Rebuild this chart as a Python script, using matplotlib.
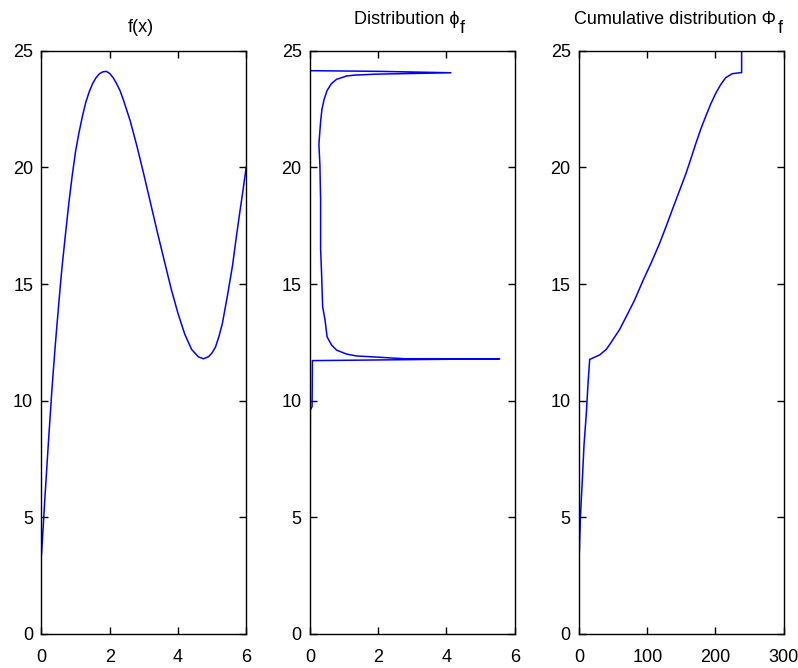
import matplotlib
matplotlib.use("Agg")
import matplotlib.pyplot as plt
from matplotlib.transforms import IdentityTransform

# ---- data ----
fx_x = [0, 0.05, 0.1, 0.15, 0.2, 0.25, 0.3, 0.35, 0.4, 0.45, 0.5, 0.55, 0.6, 0.7, 0.8, 0.9,
        1.0, 1.1, 1.2, 1.3, 1.4, 1.5, 1.6, 1.7, 1.8, 1.9, 2.0, 2.1, 2.2, 2.3, 2.4, 2.6,
        2.8, 3.0, 3.2, 3.4, 3.6, 3.8, 4.0, 4.2, 4.4, 4.6, 4.75, 4.9, 5.0, 5.1, 5.2, 5.3,
        5.45, 5.6, 5.7, 5.8, 5.9, 6.0]
fx_y = [3.4, 4.6, 5.85, 7.0, 8.15, 9.25, 10.35, 11.35, 12.3, 13.2, 14.05, 14.9, 15.7, 17.1, 18.45, 19.65,
        20.7, 21.5, 22.2, 22.8, 23.25, 23.6, 23.85, 24.02, 24.1, 24.12, 24.03, 23.85, 23.6, 23.3, 22.9, 22.0,
        20.9, 19.7, 18.45, 17.2, 16.0, 14.8, 13.75, 12.85, 12.2, 11.88, 11.8, 11.89, 12.05, 12.3, 12.75, 13.3,
        14.5, 15.8, 16.9, 17.95, 18.95, 20.0]

phi_val = [0.0, 0.01, 0.06, 0.07, 5.56, 2.77, 1.85, 1.36, 1.07, 0.78, 0.63, 0.5, 0.44,
           0.37, 0.34, 0.31, 0.31, 0.29, 0.26, 0.31, 0.35, 0.41, 0.5, 0.63, 0.78, 1.07, 1.31,
           1.94, 4.13, 2.04, 0.0]
phi_lvl = [3.4, 9.6, 9.75, 11.72, 11.80, 11.80, 11.88, 11.92, 12.0, 12.17, 12.39, 12.74, 13.46,
           14.03, 15.4, 16.5, 18.6, 20.1, 21.0, 21.96, 22.5, 22.9, 23.3, 23.6, 23.78, 23.92, 23.96,
           24.0, 24.06, 24.12, 24.15]

cum_val = [0.5, 2, 5, 7.3, 10.8, 13.1, 15.6, 30, 40, 47, 59.4, 69.1, 81.2, 93.3, 105.6, 117.7,
           127.5, 137.1, 146.9, 156.6, 164, 171.2, 178.5, 185.8, 193, 200.4, 207.6, 215, 224.6,
           238.3, 238.3]
cum_lvl = [3.5, 5.0, 6.7, 8.1, 9.5, 10.7, 11.77, 11.96, 12.2, 12.5, 13.05, 13.6, 14.3, 15.12, 15.9,
           16.72, 17.46, 18.22, 18.98, 19.73, 20.38, 21.03, 21.65, 22.2, 22.72, 23.18, 23.55, 23.85, 24.02,
           24.07, 25.0]

title_main = ["f(x)", "Distribution \u03d5", "Cumulative distribution \u03a6"]
title_sub = ["", "f", "f"]
xticks = [[0, 2, 4, 6], [0, 2, 4, 6], [0, 100, 200, 300]]
xlims = [(0, 6), (0, 6), (0, 300)]
yticks = [0, 5, 10, 15, 20, 25]

plt.rcParams['font.family'] = ['Liberation Sans', 'DejaVu Sans']

FW, FH = 798, 668
fig = plt.figure(figsize=(FW / 100, FH / 100), dpi=100)
lefts = [0.052, 0.3885, 0.7256]
W = 0.2565
B = 0.0509
H = 0.873

series = [(fx_x, fx_y), (phi_val, phi_lvl), (cum_val, cum_lvl)]
for i in range(3):
    ax = fig.add_axes([lefts[i], B, W, H])
    xs, ys = series[i]
    ax.plot(xs, ys, color=(0, 0, 1), lw=1.1)
    ax.set_xlim(*xlims[i])
    ax.set_ylim(0, 25)
    ax.set_xticks(xticks[i])
    ax.set_yticks(yticks)
    ax.tick_params(direction='in', length=5, width=1, top=True, right=True,
                   labelsize=13, color='black')
    ax.tick_params(axis='x', pad=11)
    ax.tick_params(axis='y', pad=6)
    for s in ax.spines.values():
        s.set_linewidth(1.0)

# titles with a full-size, lowered subscript (as in the reference)
renderer = fig.canvas.get_renderer()
for i in range(3):
    center = (lefts[i] + W / 2) * FW - 3
    tm = fig.text(0, 0, title_main[i], transform=IdentityTransform(),
                  fontsize=13, ha='left', va='baseline')
    wm = tm.get_window_extent(renderer).width
    if title_sub[i]:
        ts = fig.text(0, 0, title_sub[i], transform=IdentityTransform(),
                      fontsize=13, ha='left', va='baseline')
        wsub = ts.get_window_extent(renderer).width
        total = wm + 1 + wsub
        x0 = center - total / 2
        tm.set_position((x0, FH - 24))
        ts.set_position((x0 + wm + 1, FH - 33))
    else:
        x0 = center - wm / 2
        tm.set_position((x0, FH - 32.5))

fig.savefig("out.png", dpi=100)
